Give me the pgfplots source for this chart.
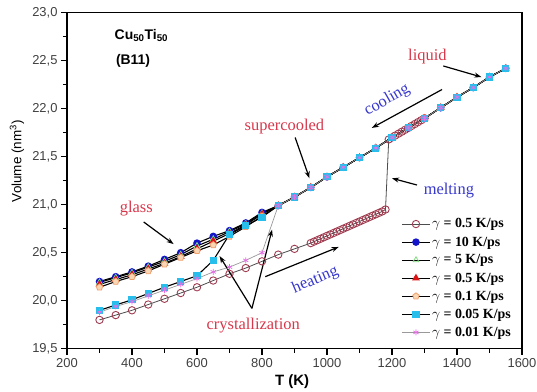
\documentclass[border=0pt]{standalone}
\usepackage{pgfplots}
\pgfplotsset{compat=1.18}
\usepackage{fontspec}
\setmainfont{Liberation Sans}
\newfontfamily\annfont{Liberation Serif}
\usetikzlibrary{arrows.meta}
\definecolor{annred}{RGB}{215,55,75}
\definecolor{annblue}{RGB}{55,55,205}
\definecolor{heatc}{RGB}{160,60,80}
\definecolor{c10}{RGB}{20,20,200}
\definecolor{c5}{RGB}{130,220,130}
\definecolor{c05}{RGB}{220,20,20}
\definecolor{c01}{RGB}{240,160,110}
\definecolor{c01f}{RGB}{250,215,180}
\definecolor{c005}{RGB}{40,190,235}
\definecolor{c001}{RGB}{230,110,230}
\begin{document}
\begin{tikzpicture}
\begin{axis}[
  at={(0,0)}, anchor=south west,
  scale only axis, width=455bp, height=336bp,
  xmin=200, xmax=1600, ymin=19.5, ymax=23,
  xtick={200,400,600,800,1000,1200,1400,1600},
  ytick={19.5,20,20.5,21,21.5,22,22.5,23},
  minor x tick num=1, minor y tick num=1,
  xtick pos=bottom, ytick pos=left,
  tick align=outside,
  major tick length=6bp, minor tick length=4bp,
  every tick/.style={black, line width=1.2bp},
  axis line style={line width=1.5bp},
  /pgf/number format/assume math mode=true,
  yticklabel style={/pgf/number format/.cd, use comma, fixed, fixed zerofill, precision=1},
  xticklabel style={/pgf/number format/.cd, fixed, 1000 sep={}},
  ticklabel style={font=\fontsize{13}{15}\selectfont, text=black!75},
  xlabel={\bfseries T (K)},
  ylabel={Volume (nm\textsuperscript{3})},
  xlabel style={font=\fontsize{15}{17}\selectfont, at={(axis description cs:0.495,-0.0985)}, anchor=center},
  ylabel style={font=\fontsize{13.5}{16}\selectfont, at={(axis description cs:-0.1099,0.558)}, anchor=center},
  legend style={draw=none, fill=none, at={(rel axis cs:0.728,0.398)}, anchor=north west,
    font=\annfont\bfseries\fontsize{14}{16}\selectfont, row sep=4.3bp,
    nodes={inner sep=1.5bp}},
  legend cell align=left,
  legend image code/.code={\draw[mark repeat=2,mark phase=2,#1] plot coordinates {(0bp,0bp) (14bp,0bp) (28bp,0bp)};},
]
% gamma = 0.5 K/ps heating
\addplot[black!70, line width=0.8bp, mark=o, mark size=3.7bp, mark options={heatc, fill=white, line width=0.9bp}] coordinates {
(300,19.80)(350,19.85)(400,19.90)(450,19.96)(500,20.02)(550,20.08)(600,20.14)(650,20.21)(700,20.28)(750,20.34)(800,20.41)(850,20.48)(900,20.54)
(950,20.60)(960,20.615)(970,20.63)(980,20.645)(990,20.66)(1000,20.675)(1010,20.69)(1020,20.705)(1030,20.72)(1040,20.735)(1050,20.75)(1060,20.765)(1070,20.78)(1080,20.795)(1090,20.81)(1100,20.825)(1110,20.84)(1120,20.855)(1130,20.87)(1140,20.885)(1150,20.90)(1160,20.915)(1170,20.93)(1180,20.95)
(1190,21.68)(1200,21.70)(1210,21.72)(1220,21.74)(1230,21.76)(1240,21.78)(1250,21.80)(1260,21.82)(1270,21.84)(1280,21.86)(1290,21.88)(1300,21.90)};
\addlegendentry{$\gamma$ = 0.5 K/ps}
% 10 K/ps
\addplot[black, line width=1.1bp, mark=*, mark size=3.2bp, mark options={c10, fill=c10}] coordinates {
(300,20.20)(350,20.25)(400,20.30)(450,20.36)(500,20.43)(550,20.50)(600,20.60)(650,20.67)(700,20.73)(750,20.81)(800,20.92)
(850,20.99)(900,21.08)(950,21.18)(1000,21.29)(1050,21.39)(1100,21.49)(1150,21.59)(1200,21.70)(1250,21.80)(1300,21.90)(1350,22.01)(1400,22.12)(1450,22.22)(1500,22.33)(1550,22.42)};
\addlegendentry{$\gamma$ = 10 K/ps}
% 5 K/ps
\addplot[black, line width=1.1bp, mark=triangle, mark size=3.4bp, mark options={c5, fill=white, line width=0.8bp}] coordinates {
(300,20.19)(350,20.24)(400,20.29)(450,20.35)(500,20.41)(550,20.48)(600,20.57)(650,20.64)(700,20.72)(750,20.80)(800,20.91)
(850,20.99)(900,21.08)(950,21.18)(1000,21.29)(1050,21.39)(1100,21.49)(1150,21.59)(1200,21.70)(1250,21.80)(1300,21.90)(1350,22.01)(1400,22.12)(1450,22.22)(1500,22.33)(1550,22.42)};
\addlegendentry{$\gamma$ = 5 K/ps}
% 0.5 K/ps cooling
\addplot[black, line width=1.1bp, mark=triangle*, mark size=3.4bp, mark options={c05, fill=c05}] coordinates {
(300,20.17)(350,20.22)(400,20.27)(450,20.33)(500,20.39)(550,20.46)(600,20.54)(650,20.62)(700,20.70)(750,20.79)(800,20.90)
(850,20.99)(900,21.08)(950,21.18)(1000,21.29)(1050,21.39)(1100,21.49)(1150,21.59)(1200,21.70)(1250,21.80)(1300,21.90)(1350,22.01)(1400,22.12)(1450,22.22)(1500,22.33)(1550,22.42)};
\addlegendentry{$\gamma$ = 0.5 K/ps}
% 0.1 K/ps
\addplot[black, line width=1.1bp, mark=pentagon*, mark size=3.4bp, mark options={draw=c01, fill=c01f, line width=0.8bp}] coordinates {
(300,20.14)(350,20.20)(400,20.25)(450,20.31)(500,20.38)(550,20.45)(600,20.52)(650,20.58)(700,20.67)(750,20.77)(800,20.88)
(850,20.99)(900,21.08)(950,21.18)(1000,21.29)(1050,21.39)(1100,21.49)(1150,21.59)(1200,21.70)(1250,21.80)(1300,21.90)(1350,22.01)(1400,22.12)(1450,22.22)(1500,22.33)(1550,22.42)};
\addlegendentry{$\gamma$ = 0.1 K/ps}
% 0.05 K/ps
\addplot[black, line width=1.1bp, mark=square*, mark size=3bp, mark options={c005, fill=c005}] coordinates {
(300,19.90)(350,19.955)(400,20.01)(450,20.075)(500,20.14)(550,20.20)(600,20.26)(650,20.42)(700,20.69)(750,20.78)(800,20.87)
(850,20.99)(900,21.08)(950,21.18)(1000,21.29)(1050,21.39)(1100,21.49)(1150,21.59)(1200,21.70)(1250,21.80)(1300,21.90)(1350,22.01)(1400,22.12)(1450,22.22)(1500,22.33)(1550,22.42)};
\addlegendentry{$\gamma$ = 0.05 K/ps}
% 0.01 K/ps
\addplot[black!40, line width=0.7bp, mark=asterisk, mark size=3bp, mark options={c001, line width=0.7bp}] coordinates {
(300,19.88)(350,19.94)(400,19.99)(450,20.05)(500,20.11)(550,20.17)(600,20.23)(650,20.30)(700,20.35)(750,20.42)(800,20.50)
(850,20.99)(900,21.08)(950,21.18)(1000,21.29)(1050,21.39)(1100,21.49)(1150,21.59)(1200,21.70)(1250,21.80)(1300,21.90)(1350,22.01)(1400,22.12)(1450,22.22)(1500,22.33)(1550,22.42)};
\addlegendentry{$\gamma$ = 0.01 K/ps}
% annotations
\node[font=\bfseries\fontsize{14}{16}\selectfont, anchor=west] at (axis cs:336,22.76) {Cu\textsubscript{50}Ti\textsubscript{50}};
\node[font=\bfseries\fontsize{14}{16}\selectfont, anchor=west] at (axis cs:340,22.50) {(B11)};
\begin{scope}[font=\annfont\fontsize{16.5}{19}\selectfont]
\node[text=annred] at (axis cs:1309,22.54) {liquid};
\node[text=annblue, rotate=30] at (axis cs:1185,22.09) {cooling};
\node[text=annred] at (axis cs:869,21.81) {supercooled};
\node[text=annblue] at (axis cs:1375,21.15) {melting};
\node[text=annred] at (axis cs:413,20.955) {glass};
\node[text=annblue, rotate=23] at (axis cs:964,20.215) {heating};
\node[text=annred] at (axis cs:773,19.74) {crystallization};
\end{scope}
\begin{scope}[black, line width=1.2bp, -{Stealth[length=7bp,width=5bp]}]
\draw (axis cs:1358,22.445) -- (axis cs:1475,22.33);
\draw (axis cs:1354,22.20) -- (axis cs:1138,21.80);
\draw (axis cs:902,21.70) -- (axis cs:946,21.275);
\draw (axis cs:1277,21.205) -- (axis cs:1200,21.275);
\draw (axis cs:436,20.82) -- (axis cs:528,20.59);
\draw (axis cs:810,20.25) -- (axis cs:1036,20.56);
\draw (axis cs:769,19.92) -- (axis cs:669.5,20.465);
\draw (axis cs:769,19.92) -- (axis cs:831,20.74);
\end{scope}
\coordinate (sw) at (rel axis cs:0,0);
\coordinate (ne) at (rel axis cs:1,1);
\end{axis}
\pgfresetboundingbox
\path[use as bounding box] ([xshift=-67bp,yshift=-42.5bp]sw) rectangle ([xshift=15bp,yshift=12.7bp]ne);
\end{tikzpicture}
\end{document}
